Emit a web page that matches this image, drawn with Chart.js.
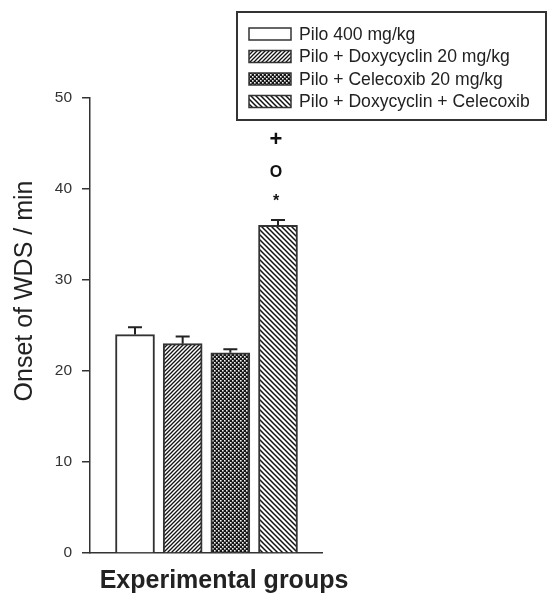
<!DOCTYPE html>
<html>
<head>
<meta charset="utf-8">
<script src="https://cdn.jsdelivr.net/npm/chart.js@4.4.1/dist/chart.umd.min.js"></script>
<style>
html,body{margin:0;padding:0;background:#fff;}
#wrap{width:548px;height:596px;position:relative;}
</style>
</head>
<body>
<div id="wrap"><canvas id="c" width="548" height="596"></canvas></div>
<script>
// ---- data ----
const categories = ['Pilo 400 mg/kg', 'Pilo + Doxycyclin 20 mg/kg', 'Pilo + Celecoxib 20 mg/kg', 'Pilo + Doxycyclin + Celecoxib'];
const onsetMeans = [24, 23, 22, 36];
const onsetSEM = [0.8, 0.8, 0.4, 0.6];
const yTicks = [0, 10, 20, 30, 40, 50];
const sigMarks = ['+', 'O', '*'];
const sigMarkY = [45.4, 41.8, 38.9];
const sigMarkGroup = 3;
const yTitle = 'Onset of WDS / min';
const xTitle = 'Experimental groups';

// ---- patterns ----
function makePattern(kind) {
  const c = document.createElement('canvas');
  const g = c.getContext('2d');
  if (kind === 'white') return '#ffffff';
  if (kind === 'fwd') {
    const s = 4; c.width = s; c.height = s;
    g.fillStyle = '#fff'; g.fillRect(0, 0, s, s);
    g.strokeStyle = '#111'; g.lineWidth = 1.3;
    g.beginPath();
    g.moveTo(-1, s + 1); g.lineTo(s + 1, -1);
    g.moveTo(-1, 1); g.lineTo(1, -1);
    g.moveTo(s - 1, s + 1); g.lineTo(s + 1, s - 1);
    g.stroke();
  } else if (kind === 'back') {
    const s = 5; c.width = s; c.height = s;
    g.fillStyle = '#fff'; g.fillRect(0, 0, s, s);
    g.strokeStyle = '#111'; g.lineWidth = 1.5;
    g.beginPath();
    g.moveTo(-1, -1); g.lineTo(s + 1, s + 1);
    g.moveTo(s - 1, -1); g.lineTo(s + 1, 1);
    g.moveTo(-1, s - 1); g.lineTo(1, s + 1);
    g.stroke();
  } else if (kind === 'dots') {
    const s = 4; c.width = s; c.height = s;
    g.fillStyle = '#151515'; g.fillRect(0, 0, s, s);
    g.fillStyle = '#f2f2f2';
    g.fillRect(0, 0, 1.6, 1.6);
    g.fillRect(2, 2, 1.6, 1.6);
  }
  return g.createPattern(c, 'repeat');
}
const fills = [makePattern('white'), makePattern('fwd'), makePattern('dots'), makePattern('back')];

const FONT = '"Liberation Sans", Arial, sans-serif';
const INK = '#222';

const extras = {
  id: 'extras',
  afterDatasetsDraw(chart) {
    const ctx = chart.ctx, xs = chart.scales.x, ys = chart.scales.y;
    ctx.save();
    // error bars (upper only)
    ctx.strokeStyle = INK; ctx.lineWidth = 2;
    onsetMeans.forEach((v, i) => {
      const x = xs.getPixelForValue(i);
      const y0 = ys.getPixelForValue(v);
      const y1 = ys.getPixelForValue(v + onsetSEM[i]);
      ctx.beginPath();
      ctx.moveTo(x, y0); ctx.lineTo(x, y1);
      ctx.moveTo(x - 7, y1); ctx.lineTo(x + 7, y1);
      ctx.stroke();
    });
    // significance marks
    ctx.fillStyle = '#111';
    ctx.textAlign = 'center'; ctx.textBaseline = 'middle';
    const sizes = [22, 16, 16];
    sigMarks.forEach((m, k) => {
      ctx.font = 'bold ' + sizes[k] + 'px ' + FONT;
      const x = xs.getPixelForValue(sigMarkGroup) - 2;
      const y = ys.getPixelForValue(sigMarkY[k]) + (m === '*' ? 3 : 0);
      ctx.fillText(m, x, y);
    });
    ctx.restore();
  },
  afterDraw(chart) {
    const ctx = chart.ctx;
    ctx.save();
    // axis titles
    ctx.fillStyle = INK;
    ctx.font = '25px ' + FONT;
    ctx.textAlign = 'center'; ctx.textBaseline = 'alphabetic';
    ctx.save();
    ctx.translate(32, 291);
    ctx.rotate(-Math.PI / 2);
    ctx.fillText(yTitle, 0, 0);
    ctx.restore();
    ctx.font = 'bold 25px ' + FONT;
    ctx.fillText(xTitle, 224, 588);
    // legend
    ctx.strokeStyle = '#333'; ctx.lineWidth = 2;
    ctx.strokeRect(237, 12, 309, 108);
    ctx.font = '17.6px ' + FONT;
    ctx.textAlign = 'left'; ctx.textBaseline = 'middle';
    categories.forEach((lab, i) => {
      const cy = 34 + i * 22.5;
      ctx.fillStyle = fills[i];
      ctx.fillRect(249, cy - 6, 42, 12);
      ctx.strokeStyle = '#333'; ctx.lineWidth = 1.5;
      ctx.strokeRect(249, cy - 6, 42, 12);
      ctx.fillStyle = INK;
      ctx.fillText(lab, 299, cy + 1);
    });
    ctx.restore();
  }
};

new Chart(document.getElementById('c'), {
  type: 'bar',
  data: {
    datasets: [{
      label: 'Onset of WDS',
      data: onsetMeans.map((v, i) => ({ x: i, y: v })),
      backgroundColor: fills,
      borderColor: '#333',
      borderWidth: 2,
      borderSkipped: 'bottom',
      barThickness: 39
    }]
  },
  options: {
    responsive: false,
    animation: false,
    devicePixelRatio: 1,
    layout: { padding: { left: 0, right: 226, top: 98, bottom: 0 } },
    plugins: { legend: { display: false }, tooltip: { enabled: false } },
    scales: {
      x: {
        type: 'linear',
        min: -0.944, max: 3.923,
        offset: false,
        ticks: { display: false },
        grid: { display: false },
        border: { display: true, color: '#333', width: 1.5 },
        afterFit(s) { s.height = 43; }
      },
      y: {
        min: 0, max: 50,
        afterBuildTicks(s) { s.ticks = yTicks.map(v => ({ value: v })); },
        ticks: { color: '#333', font: { family: FONT, size: 15.5 }, padding: 10 },
        grid: { drawOnChartArea: false, drawTicks: true, tickLength: 8, color: '#333', lineWidth: 1.5 },
        border: { display: true, color: '#333', width: 1.5 },
        afterFit(s) { s.width = 90; }
      }
    }
  },
  plugins: [extras]
});
</script>
</body>
</html>
